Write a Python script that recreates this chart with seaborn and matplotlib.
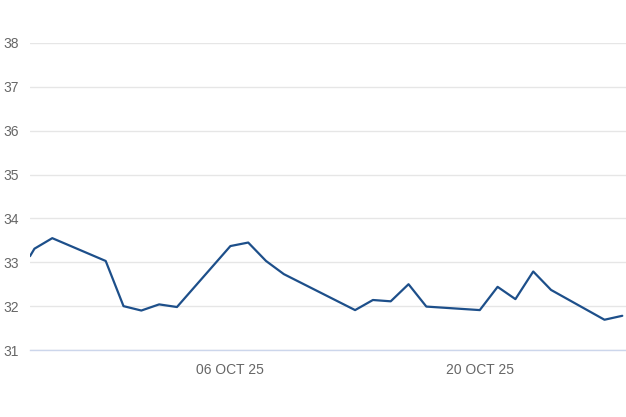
import matplotlib
matplotlib.use("Agg")
import matplotlib.pyplot as plt
import seaborn as sns
import pandas as pd

dates = ["2025-09-24 18:00", "2025-09-25 00:00", "2025-09-26 00:00", "2025-09-29 00:00",
         "2025-09-30 00:00", "2025-10-01 00:00", "2025-10-02 00:00", "2025-10-03 00:00",
         "2025-10-06 00:00", "2025-10-07 00:00", "2025-10-08 00:00", "2025-10-09 00:00",
         "2025-10-13 00:00", "2025-10-14 00:00", "2025-10-15 00:00", "2025-10-16 00:00",
         "2025-10-17 00:00", "2025-10-20 00:00", "2025-10-21 00:00", "2025-10-22 00:00",
         "2025-10-23 00:00", "2025-10-24 00:00", "2025-10-27 00:00", "2025-10-28 00:00"]
values = [33.14, 33.31, 33.55, 33.03, 32.00, 31.90, 32.04, 31.98, 33.37, 33.45,
          33.03, 32.73, 31.91, 32.14, 32.11, 32.50, 31.99, 31.91, 32.44, 32.16,
          32.79, 32.37, 31.69, 31.78]
y_ticks = [31, 32, 33, 34, 35, 36, 37, 38]
x_ticks = ["2025-10-06", "2025-10-20"]
x_tick_labels = ["06 OCT 25", "20 OCT 25"]

df = pd.DataFrame({"date": pd.to_datetime(dates, format="%Y-%m-%d %H:%M"), "value": values})

sns.set_theme(style="white")
plt.rcParams['font.family'] = ['Liberation Sans', 'DejaVu Sans']

fig = plt.figure(figsize=(6.26, 4.17), dpi=100)
ax = fig.add_axes([30/626, 1 - 350/417, 1 - 30/626, (350 - 43)/417])

sns.lineplot(data=df, x="date", y="value", ax=ax, color="#1d4f8a", linewidth=1.6)

ax.set_xlim(pd.Timestamp("2025-09-24 18:00"), pd.Timestamp("2025-10-28 05:00"))
ax.set_ylim(31, 38)
ax.set_yticks(y_ticks)
ax.set_yticklabels([str(t) for t in y_ticks])
ax.set_xticks(pd.to_datetime(x_ticks))
ax.set_xticklabels(x_tick_labels)

ax.grid(axis="y", color="#e6e6e6", linewidth=1)
ax.grid(axis="x", visible=False)
for side in ["top", "right", "left"]:
    ax.spines[side].set_visible(False)
ax.spines["bottom"].set_color("#ccd6eb")
ax.spines["bottom"].set_linewidth(1)
ax.set_xlabel("")
ax.set_ylabel("")
ax.tick_params(axis="y", length=0, pad=8, labelsize=10, labelcolor="#666666")
ax.tick_params(axis="x", length=6, width=1, color="#ccd6eb", pad=3,
               labelsize=10, labelcolor="#666666", direction="out")
ax.set_axisbelow(True)

fig.savefig("out.png", dpi=100)
